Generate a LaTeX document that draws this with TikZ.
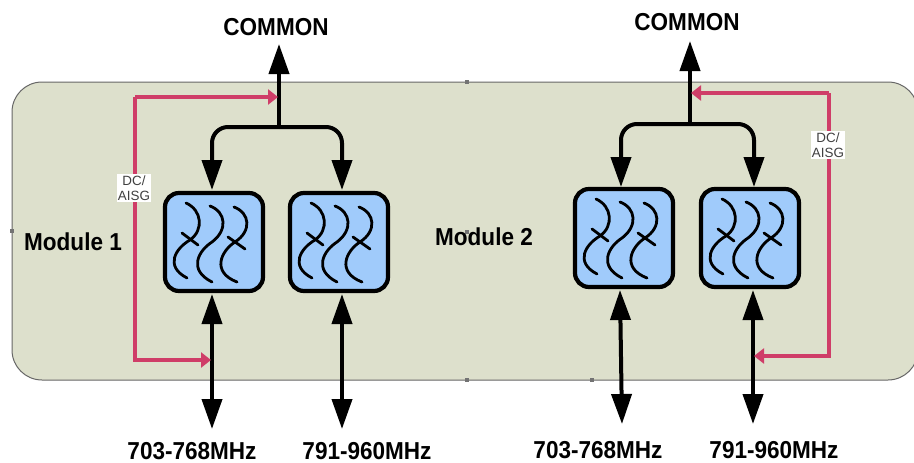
\documentclass[tikz,border=0pt]{standalone}
\usepackage{fontspec}
\setmainfont{Liberation Sans}
\usetikzlibrary{arrows.meta}
\definecolor{modulefill}{HTML}{DDE0CC}
\definecolor{filterfill}{HTML}{A0CBFB}
\definecolor{dcline}{HTML}{CF3D68}
\tikzset{
  bigtip/.style={{Triangle[length=30pt,width=20pt]}-{Triangle[length=30pt,width=20pt]}},
  toptip/.style={-{Triangle[length=30pt,width=20pt]}},
  dctip/.style={-{Triangle[length=10pt,width=15pt]}},
  rftrunk/.style={line width=4pt,black},
  dcfeed/.style={line width=3.8pt,dcline,dctip},
  filterbox/.style={draw=black,fill=filterfill,line width=4.2pt,rounded corners=14pt,
    minimum width=98pt,minimum height=98pt,inner sep=0pt},
  bandlabel/.style={font=\fontsize{24.5}{26}\selectfont\bfseries,inner sep=0pt,transform shape,xscale=.92},
  dclabel/.style={fill=white,inner sep=1pt,align=center,font=\fontsize{13.4}{15.5}\selectfont,text=black!75},
  handle/.style={fill=black!55,inner sep=0pt,minimum size=4pt},
  filterwave/.pic={
    \draw [line width=2.8pt,line cap=round]
      (-28,-39) .. controls (-12,-32) and (-10,-12) .. (-24,-2) .. controls (-38,6) and (-50,24) .. (-27,36)
      (-4,-36) .. controls (12,-30) and (14,-12) .. (-2,0) .. controls (-16,9) and (-26,28) .. (-2,40)
      (20,-35) .. controls (36,-29) and (38,-11) .. (21,0) .. controls (7,9) and (-3,30) .. (23,40);
    \draw [line width=2.8pt,line cap=round] (-32,-9) -- (-16,3);
    \draw [line width=2.8pt,line cap=round] (14,-5) -- (31,7);
  }
}
\begin{document}
\begin{tikzpicture}[x=1pt,y=-1pt]
  \useasboundingbox (0,0) rectangle (914,463);

  \draw [draw=black!60,fill=modulefill,line width=1pt,rounded corners=30pt]
    (12,82) rectangle (918,380);

  \foreach \hx/\hy [count=\hn] in {12/231,467/82,467/380,592/380,467/232}
    \node [handle] (handle\hn) at (\hx,\hy) {};

  \foreach \fname/\fx/\fy in {filterA/214/242,filterB/339/242,filterC/624/238,filterD/750/238} {
    \node [filterbox] (\fname) at (\fx,\fy) {};
    \pic at (\fname) {filterwave};
  }

  % left module
  \coordinate (commonA) at (279,44);
  \coordinate (splitA) at (279,127);
  \coordinate (dcA) at (278,97);
  \coordinate (portA) at (212,429);
  \coordinate (portB) at (342,429);
  \coordinate (inA) at (212,294);
  \coordinate (inB) at (342,294);
  \coordinate (topA) at (212,190);
  \coordinate (topB) at (342,190);
  \coordinate (dcportA) at (211,360);
  \coordinate (dccornerA) at (135,97);

  \draw [rftrunk,toptip] (splitA) -- (commonA);
  \draw [rftrunk,toptip,rounded corners=16pt] (splitA) -- (212,127) -- (topA);
  \draw [rftrunk,toptip,rounded corners=16pt] (splitA) -- (342,127) -- (topB);
  \draw [rftrunk,bigtip] (inA) -- (portA);
  \draw [rftrunk,bigtip] (inB) -- (portB);
  \draw [dcfeed] (dccornerA) -- (135,360) -- (dcportA);
  \draw [dcfeed] (dccornerA) -- (dcA);

  % right module
  \coordinate (commonB) at (690,41);
  \coordinate (splitB) at (690,124);
  \coordinate (dcB) at (691,93);
  \coordinate (portC) at (622,424);
  \coordinate (portD) at (753,424);
  \coordinate (inC) at (620,290);
  \coordinate (inD) at (753,290);
  \coordinate (topC) at (621,187);
  \coordinate (topD) at (754,187);
  \coordinate (dcportB) at (754,356);
  \coordinate (dccornerB) at (829,93);

  \draw [rftrunk,toptip] (splitB) -- (commonB);
  \draw [rftrunk,toptip,rounded corners=16pt] (splitB) -- (621,124) -- (topC);
  \draw [rftrunk,toptip,rounded corners=16pt] (splitB) -- (754,124) -- (topD);
  \draw [rftrunk,bigtip] (inC) -- (portC);
  \draw [rftrunk,bigtip] (inD) -- (portD);
  \draw [dcfeed] (dccornerB) -- (829,356) -- (dcportB);
  \draw [dcfeed] (dccornerB) -- (dcB);

  \node [dclabel] (dcA label) at (134,188) {DC/\\AISG};
  \node [dclabel] (dcB label) at (828,145) {DC/\\AISG};

  \node [bandlabel] (moduleA) at (73,242) {Module 1};
  \node [bandlabel] (moduleB) at (484,237) {Module 2};
  \node [bandlabel] (labelA) at (276,27) {COMMON};
  \node [bandlabel] (labelB) at (687,22) {COMMON};
  \node [bandlabel] (bandA) at (192,451) {703-768MHz};
  \node [bandlabel] (bandB) at (367,451) {791-960MHz};
  \node [bandlabel] (bandC) at (598,450) {703-768MHz};
  \node [bandlabel] (bandD) at (774,450) {791-960MHz};
\end{tikzpicture}
\end{document}
